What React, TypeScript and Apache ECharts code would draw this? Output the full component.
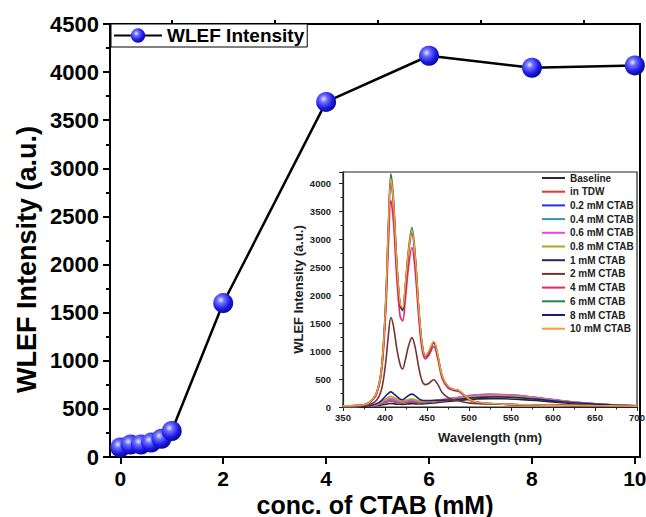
import React, { useEffect, useRef } from "react";
import * as echarts from "echarts";

// Main chart data
const concentrations = [0, 0.2, 0.4, 0.6, 0.8, 1, 2, 4, 6, 8, 10];
const wlefIntensity = [100, 130, 130, 150, 190, 270, 1600, 3690, 4170, 4045, 4070];
const xMajorTicks = [0, 2, 4, 6, 8, 10];
const xMinorTicks = [1, 3, 5, 7, 9];

// Inset spectra data
const wavelengths = [350, 365, 375, 382, 390, 396, 401, 404, 407, 410, 414, 418, 421, 424, 428, 432, 436, 440, 444, 448, 452, 458, 463, 468, 475, 482, 488, 495, 502, 510, 525, 540, 560, 580, 610, 640, 670, 700];
const baseline = [5, 6, 8, 12, 22, 35, 50, 58, 62, 58, 52, 48, 47, 50, 55, 58, 56, 54, 56, 60, 64, 72, 80, 88, 98, 108, 118, 128, 137, 144, 150, 147, 136, 115, 78, 48, 28, 15];
const inTDW = [12, 14, 16, 20, 34, 58, 85, 96, 102, 94, 80, 70, 68, 74, 84, 88, 82, 76, 76, 80, 85, 92, 100, 108, 118, 130, 142, 155, 166, 176, 190, 186, 172, 145, 98, 60, 34, 19];
const ctab02 = [10, 11, 13, 19, 38, 72, 108, 124, 132, 122, 102, 86, 83, 93, 106, 114, 104, 93, 92, 95, 100, 108, 118, 128, 142, 158, 174, 190, 205, 217, 225, 220, 203, 168, 113, 69, 39, 21];
const ctab04 = [10, 11, 13, 19, 38, 70, 105, 122, 130, 120, 100, 85, 82, 92, 105, 112, 102, 92, 90, 93, 98, 106, 115, 125, 138, 152, 166, 180, 193, 203, 210, 205, 190, 158, 108, 66, 38, 21];
const ctab06 = [10, 12, 14, 20, 42, 80, 120, 140, 150, 138, 115, 95, 90, 100, 115, 125, 112, 98, 95, 98, 103, 112, 122, 132, 145, 160, 175, 192, 208, 220, 228, 222, 205, 170, 115, 70, 40, 22];
const ctab08 = [10, 12, 15, 22, 50, 95, 145, 175, 190, 170, 140, 110, 105, 120, 135, 145, 130, 110, 100, 100, 105, 110, 118, 125, 135, 145, 158, 172, 185, 195, 205, 200, 185, 155, 105, 65, 38, 22];
const ctab1 = [10, 12, 15, 25, 60, 120, 200, 245, 270, 240, 190, 140, 130, 160, 205, 231, 200, 150, 120, 115, 115, 120, 120, 122, 125, 130, 138, 148, 158, 168, 180, 178, 165, 140, 95, 60, 35, 20];
const ctab2 = [15, 18, 25, 45, 120, 320, 820, 1280, 1600, 1450, 1050, 760, 680, 830, 1090, 1240, 1060, 720, 470, 400, 420, 486, 400, 260, 170, 130, 110, 85, 70, 60, 55, 48, 40, 35, 30, 25, 20, 15];
const ctab4 = [18, 23, 36, 80, 230, 640, 1720, 2870, 3690, 3320, 2300, 1620, 1540, 1880, 2500, 2850, 2420, 1620, 1040, 860, 920, 1080, 850, 510, 340, 295, 275, 190, 115, 78, 58, 48, 38, 33, 28, 23, 18, 14];
const ctab6 = [20, 25, 40, 90, 260, 720, 1950, 3250, 4170, 3750, 2620, 1820, 1720, 2120, 2820, 3205, 2720, 1820, 1160, 920, 990, 1160, 910, 555, 365, 312, 292, 202, 122, 82, 60, 50, 40, 35, 30, 25, 20, 15];
const ctab8 = [20, 25, 40, 86, 250, 700, 1890, 3160, 4045, 3650, 2560, 1820, 1740, 2120, 2760, 3110, 2650, 1780, 1130, 900, 970, 1150, 900, 550, 360, 310, 290, 200, 120, 82, 60, 50, 40, 35, 30, 25, 20, 15];
const ctab10 = [20, 25, 40, 88, 255, 705, 1900, 3180, 4070, 3680, 2580, 1850, 1770, 2150, 2790, 3150, 2680, 1800, 1150, 910, 990, 1170, 920, 560, 370, 315, 295, 205, 125, 85, 62, 52, 42, 36, 30, 25, 20, 15];

const insetNames = ["Baseline", "in TDW", "0.2 mM CTAB", "0.4 mM CTAB", "0.6 mM CTAB", "0.8 mM CTAB", "1 mM CTAB", "2 mM CTAB", "4 mM CTAB", "6 mM CTAB", "8 mM CTAB", "10 mM CTAB"];
const insetValues = [baseline, inTDW, ctab02, ctab04, ctab06, ctab08, ctab1, ctab2, ctab4, ctab6, ctab8, ctab10];
const insetColors = ["#2a2a2a", "#ee3333", "#2233dd", "#3399aa", "#ee44ee", "#a8a820", "#22227a", "#773333", "#ee2266", "#228844", "#1a1a80", "#ff9933"];

const FONT = "Arial, 'Liberation Sans', sans-serif";
const plain = (v: number) => String(v);

export default function App() {
  const ref = useRef<HTMLDivElement>(null);

  useEffect(() => {
    if (!ref.current) return;
    const chart = echarts.init(ref.current, undefined, { renderer: "svg" });

    const sphere = new echarts.graphic.RadialGradient(0.38, 0.35, 0.7, [
      { offset: 0, color: "#e8ecff" },
      { offset: 0.25, color: "#6f70ff" },
      { offset: 0.65, color: "#1b1be6" },
      { offset: 1, color: "#06068a" },
    ]);

    const insetSeries = insetNames.map((name, k) => ({
      name,
      type: "line",
      xAxisIndex: 2,
      yAxisIndex: 1,
      smooth: 0.35,
      symbol: "none",
      showSymbol: false,
      lineStyle: { color: insetColors[k], width: 1.6 },
      itemStyle: { color: insetColors[k] },
      data: wavelengths.map((w, i) => [w, insetValues[k][i]]),
      z: 3,
    }));

    const option: any = {
      animation: false,
      backgroundColor: "#ffffff",
      textStyle: { fontFamily: FONT },
      grid: [
        { left: 110, top: 24, width: 530, height: 433, show: true, borderColor: "#000", borderWidth: 2, backgroundColor: "transparent", containLabel: false, outerBoundsMode: "none" },
        { left: 343, top: 172, width: 294, height: 235, show: true, borderColor: "#222", borderWidth: 1.2, backgroundColor: "#fff", containLabel: false, outerBoundsMode: "none" },
      ],
      legend: [
        {
          data: ["WLEF Intensity"],
          left: 111,
          top: 24,
          orient: "horizontal",
          itemWidth: 48,
          itemHeight: 18,
          padding: [2, 3, 2, 2],
          borderColor: "#000",
          borderWidth: 1,
          backgroundColor: "#fff",
          selectedMode: false,
          textStyle: { fontFamily: FONT, fontSize: 19, fontWeight: "bold", color: "#000" },
        },
        {
          data: insetNames.map((n) => ({ name: n, icon: "rect" })),
          left: 542,
          top: 173,
          orient: "vertical",
          itemWidth: 23,
          itemHeight: 2,
          itemGap: 3.7,
          padding: 0,
          selectedMode: false,
          textStyle: { fontFamily: FONT, fontSize: 10, fontWeight: "bold", color: "#222" },
        },
      ],
      xAxis: [
        {
          type: "value",
          gridIndex: 0,
          min: -0.2,
          max: 10.1,
          axisLine: { show: true, onZero: false, lineStyle: { color: "#000", width: 2 } },
          axisTick: { show: true, length: 7, lineStyle: { color: "#000", width: 2 }, customValues: xMajorTicks },
          axisLabel: { customValues: xMajorTicks, formatter: plain, fontFamily: FONT, fontSize: 21, fontWeight: "bold", color: "#000", margin: 11 },
          splitLine: { show: false },
          name: "conc. of CTAB (mM)",
          nameLocation: "middle",
          nameGap: 35,
          nameMoveOverlap: false,
          nameTextStyle: { fontFamily: FONT, fontSize: 25, fontWeight: "bold", color: "#000" },
        },
        {
          type: "value",
          gridIndex: 0,
          min: -0.2,
          max: 10.1,
          axisLine: { show: false, onZero: false },
          axisTick: { show: true, length: 4, lineStyle: { color: "#000", width: 2 }, customValues: xMinorTicks },
          axisLabel: { show: false },
          splitLine: { show: false },
        },
        {
          type: "value",
          gridIndex: 1,
          min: 350,
          max: 700,
          interval: 50,
          axisLine: { show: true, onZero: false, lineStyle: { color: "#222", width: 1.2 } },
          axisTick: { show: true, length: 4, lineStyle: { color: "#222", width: 1 } },
          minorTick: { show: true, splitNumber: 2, length: 2.5, lineStyle: { color: "#222", width: 1 } },
          axisLabel: { formatter: plain, fontFamily: FONT, fontSize: 9.5, fontWeight: "bold", color: "#222", margin: 5 },
          splitLine: { show: false },
          minorSplitLine: { show: false },
          name: "Wavelength (nm)",
          nameLocation: "middle",
          nameGap: 24,
          nameMoveOverlap: false,
          nameTextStyle: { fontFamily: FONT, fontSize: 13, fontWeight: "bold", color: "#222" },
        },
      ],
      yAxis: [
        {
          type: "value",
          gridIndex: 0,
          min: 0,
          max: 4500,
          interval: 500,
          axisLine: { show: true, onZero: false, lineStyle: { color: "#000", width: 2 } },
          axisTick: { show: true, length: 7, lineStyle: { color: "#000", width: 2 } },
          minorTick: { show: true, splitNumber: 2, length: 4, lineStyle: { color: "#000", width: 2 } },
          axisLabel: { formatter: plain, fontFamily: FONT, fontSize: 22, fontWeight: "bold", color: "#000", margin: 11 },
          splitLine: { show: false },
          minorSplitLine: { show: false },
          name: "WLEF Intensity (a.u.)",
          nameLocation: "middle",
          nameGap: 70,
          nameMoveOverlap: false,
          nameTextStyle: { fontFamily: FONT, fontSize: 27, fontWeight: "bold", color: "#000", padding: [0, 38, 0, 0] },
        },
        {
          type: "value",
          gridIndex: 1,
          min: 0,
          max: 4200,
          interval: 500,
          axisLine: { show: true, onZero: false, lineStyle: { color: "#222", width: 1.2 } },
          axisTick: { show: true, length: 4, lineStyle: { color: "#222", width: 1 } },
          minorTick: { show: true, splitNumber: 2, length: 2.5, lineStyle: { color: "#222", width: 1 } },
          axisLabel: { formatter: plain, fontFamily: FONT, fontSize: 9.5, fontWeight: "bold", color: "#222", margin: 12, showMaxLabel: false },
          splitLine: { show: false },
          minorSplitLine: { show: false },
          name: "WLEF Intensity (a.u.)",
          nameLocation: "middle",
          nameGap: 38,
          nameMoveOverlap: false,
          nameTextStyle: { fontFamily: FONT, fontSize: 13, fontWeight: "bold", color: "#222" },
        },
      ],
      series: [
        {
          name: "WLEF Intensity",
          type: "line",
          xAxisIndex: 0,
          yAxisIndex: 0,
          symbol: "circle",
          symbolSize: 20,
          showSymbol: true,
          lineStyle: { color: "#000", width: 2.5 },
          itemStyle: { color: sphere, borderWidth: 0 },
          data: concentrations.map((c, i) => [c, wlefIntensity[i]]),
          z: 4,
        },
        ...insetSeries,
      ],
    };

    chart.setOption(option);
    return () => chart.dispose();
  }, []);

  return (
    <div
      ref={ref}
      style={{ position: "fixed", left: 0, top: 0, width: 646, height: 517, background: "#fff" }}
    />
  );
}
